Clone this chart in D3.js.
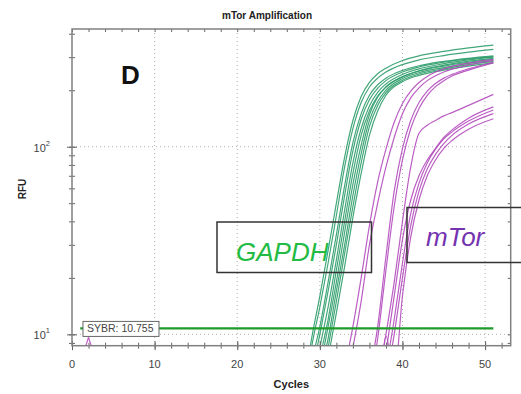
<!DOCTYPE html>
<html>
<head>
<meta charset="utf-8">
<script src="https://cdn.jsdelivr.net/npm/d3@7"></script>
<style>
  body { margin: 0; background: #fff; overflow: hidden; }
  svg { display: block; font-family: Arial, "Liberation Sans", sans-serif; }
</style>
</head>
<body>
<div id="chart"></div>
<script>
// cycles sampled for each group of wells
const gCycles = [27, 28, 29, 30, 31, 32, 33, 34, 35, 36, 37, 38, 40, 42, 45, 48, 51];
const gapdhRFU = [
  [3, 5, 9.5, 16, 28, 50, 88, 138, 185, 220, 245, 262, 288, 305, 322, 336, 348],
  [2.5, 4, 8.5, 14, 24, 43, 78, 125, 172, 208, 232, 250, 274, 290, 306, 319, 330],
  [2, 3.5, 7, 11, 19, 34, 62, 105, 150, 188, 214, 232, 255, 270, 285, 296, 305],
  [2, 3, 6, 10, 17, 30, 55, 95, 140, 178, 205, 225, 250, 266, 282, 294, 302],
  [1.5, 3, 5, 8.5, 14, 25, 46, 82, 125, 165, 195, 216, 243, 260, 277, 290, 300],
  [1.5, 2.5, 4.5, 7.5, 12, 22, 40, 72, 115, 155, 186, 208, 236, 254, 272, 286, 296],
  [1, 2, 4, 6.5, 11, 19, 35, 63, 102, 148, 184, 208, 236, 253, 269, 282, 292],
  [1, 2, 3.5, 6, 9.5, 17, 30, 55, 92, 138, 174, 200, 231, 248, 264, 278, 288],
  [1, 2, 3, 5, 8.5, 15, 27, 48, 82, 128, 166, 194, 226, 244, 260, 274, 284],
  [1, 1.5, 3, 4.5, 7.5, 13, 23, 42, 72, 115, 155, 188, 222, 240, 256, 269, 280]
];
const mCycles = [31, 32, 33, 34, 35, 36, 37, 38, 39, 40, 41, 42, 43, 44, 45, 46, 48, 51];
const mtorRFU = [
  [2, 3.5, 6.5, 11, 20, 38, 65, 97, 135, 170, 198, 220, 237, 250, 260, 268, 279, 292],
  [1.5, 2.5, 5, 8.5, 15, 30, 50, 78, 112, 150, 182, 206, 225, 239, 250, 259, 272, 288],
  [1, 1.5, 2, 2.5, 3, 6, 11, 26, 58, 98, 138, 172, 198, 217, 232, 243, 260, 282],
  [1, 1.5, 2, 2, 2.5, 5, 9.5, 22, 48, 85, 125, 160, 188, 209, 225, 238, 256, 280],
  [1, 1, 1.5, 2, 2.5, 3, 5.5, 10, 19, 40, 78, 118, 130, 138, 146, 152, 166, 190],
  [1, 1, 1, 1.5, 1.5, 2, 4, 8, 16, 32, 52, 70, 85, 98, 112, 123, 142, 163],
  [1, 1, 1, 1, 1.5, 2, 3.5, 6.5, 12, 24, 44, 64, 82, 97, 110, 120, 137, 157],
  [1, 1, 1, 1, 1.5, 2, 3, 5.5, 10, 20, 38, 58, 76, 91, 104, 115, 132, 150],
  [1, 1, 1, 1, 1.5, 2, 4, 9.8, 6, 16, 33, 52, 70, 85, 98, 108, 124, 141]
];
// early baseline blip of one mTor well
const noiseCycles = [1, 2, 3];
const noiseRFU = [7, 9.65, 7];

const threshold = 10.755;
const thresholdCycles = [1, 51];
const xTickLabels = [0, 10, 20, 30, 40, 50];
const yDecades = [10, 100];
const yMinor = [9, 10, 20, 30, 40, 50, 60, 70, 80, 90, 100, 200, 300, 400];

const W = 521, H = 394;
const margin = {top: 29, right: 10.3, bottom: 48.3, left: 72};
const iw = W - margin.left - margin.right;
const ih = H - margin.top - margin.bottom;

const svg = d3.select('#chart').append('svg')
  .attr('width', W)
  .attr('height', H);

const x = d3.scaleLinear().domain([0, 53.1]).range([0, iw]);
const y = d3.scaleLog().domain([8.7, 424]).range([ih, 0]);

const g = svg.append('g').attr('transform', `translate(${margin.left},${margin.top})`);

g.append('defs').append('clipPath').attr('id', 'plot')
  .append('rect').attr('width', iw).attr('height', ih);

// dotted grid
g.append('g').selectAll('line')
  .data(xTickLabels.filter(d => d > 0))
  .enter().append('line')
  .attr('x1', d => x(d)).attr('x2', d => x(d))
  .attr('y1', 0).attr('y2', ih)
  .attr('stroke', '#b0b0b0').attr('stroke-dasharray', '1,3');
g.append('g').selectAll('line')
  .data(yDecades)
  .enter().append('line')
  .attr('x1', 0).attr('x2', iw)
  .attr('y1', d => y(d)).attr('y2', d => y(d))
  .attr('stroke', '#b0b0b0').attr('stroke-dasharray', '1,3');

const line = d3.line()
  .x(d => x(d[0]))
  .y(d => y(d[1]))
  .curve(d3.curveMonotoneX);

const plot = g.append('g').attr('clip-path', 'url(#plot)');

plot.append('g').selectAll('path')
  .data(gapdhRFU)
  .enter().append('path')
  .attr('d', vals => line(gCycles.map((c, i) => [c, vals[i]])))
  .attr('fill', 'none')
  .attr('stroke', '#2f9d6c')
  .attr('stroke-opacity', 0.9)
  .attr('stroke-width', 1.2);

plot.append('g').selectAll('path')
  .data(mtorRFU)
  .enter().append('path')
  .attr('d', vals => line(mCycles.map((c, i) => [c, vals[i]])))
  .attr('fill', 'none')
  .attr('stroke', '#b34dbd')
  .attr('stroke-opacity', 0.9)
  .attr('stroke-width', 1.2);

plot.append('path')
  .attr('d', d3.line().x(d => x(d[0])).y(d => y(d[1]))(noiseCycles.map((c, i) => [c, noiseRFU[i]])))
  .attr('fill', 'none')
  .attr('stroke', '#c060c8')
  .attr('stroke-width', 1.2);

// threshold
plot.append('line')
  .attr('x1', x(thresholdCycles[0])).attr('x2', x(thresholdCycles[1]))
  .attr('y1', y(threshold)).attr('y2', y(threshold))
  .attr('stroke', '#1f9a2a')
  .attr('stroke-width', 2.2);

// threshold label
const thr = g.append('g').attr('transform', `translate(${x(1.33)},${y(threshold) - 7})`);
thr.append('rect')
  .attr('width', 76).attr('height', 15)
  .attr('fill', '#fff').attr('stroke', '#666').attr('stroke-width', 1);
thr.append('text')
  .attr('x', 4).attr('y', 11)
  .attr('font-size', 10.5)
  .attr('fill', '#444')
  .text('SYBR: 10.755');

// axes: ticks crossing the frame
function crossTicks(axisFn, scale, values, len) {
  const a = g.append('g');
  a.call(axisFn(scale).tickValues(values).tickSizeInner(len).tickSizeOuter(0).tickFormat(''));
  a.append('g').call(axisFn(scale).tickValues(values).tickSizeInner(-len).tickSizeOuter(0).tickFormat(''));
  a.selectAll('path.domain').remove();
  a.selectAll('line').attr('stroke', '#666');
  return a;
}
const xMinor = d3.range(0, 54, 2);
crossTicks(d3.axisBottom, x, xMinor, 3).attr('transform', `translate(0,${ih})`);
crossTicks(d3.axisBottom, x, xTickLabels, 4.5).attr('transform', `translate(0,${ih})`);
crossTicks(d3.axisLeft, y, yMinor, 3);
crossTicks(d3.axisLeft, y, yDecades, 5);

g.append('g').call(d3.axisTop(x).tickValues(xMinor).tickSizeInner(-3).tickSizeOuter(0).tickFormat(''))
  .call(a => a.select('.domain').remove())
  .selectAll('line').attr('stroke', '#666');
g.append('g').attr('transform', `translate(${iw},0)`)
  .call(d3.axisRight(y).tickValues(yMinor).tickSizeInner(-3).tickSizeOuter(0).tickFormat(''))
  .call(a => a.select('.domain').remove())
  .selectAll('line').attr('stroke', '#666');

// frame
g.append('rect')
  .attr('width', iw).attr('height', ih)
  .attr('fill', 'none').attr('stroke', '#808080').attr('stroke-width', 1.5);

// tick labels
g.append('g').selectAll('text')
  .data(xTickLabels)
  .enter().append('text')
  .attr('x', d => x(d)).attr('y', ih + 22)
  .attr('text-anchor', 'middle')
  .attr('font-size', 11)
  .attr('fill', '#444')
  .text(d => d);

const yl = g.append('g').selectAll('text')
  .data(yDecades)
  .enter().append('text')
  .attr('x', -22).attr('y', d => y(d) + 5)
  .attr('text-anchor', 'end')
  .attr('font-size', 11)
  .attr('fill', '#444');
yl.append('tspan').text('10');
yl.append('tspan').attr('font-size', 7.5).attr('dy', -6).text(d => Math.log10(d));

// titles
svg.append('text')
  .attr('x', 267).attr('y', 19)
  .attr('text-anchor', 'middle')
  .attr('font-size', 10).attr('font-weight', 'bold')
  .attr('fill', '#222')
  .text('mTor Amplification');
svg.append('text')
  .attr('x', margin.left + iw / 2).attr('y', 388)
  .attr('text-anchor', 'middle')
  .attr('font-size', 11).attr('font-weight', 'bold')
  .attr('fill', '#222')
  .text('Cycles');
svg.append('text')
  .attr('transform', `translate(26,189) rotate(-90)`)
  .attr('text-anchor', 'middle')
  .attr('font-size', 10).attr('font-weight', 'bold')
  .attr('fill', '#222')
  .text('RFU');

svg.append('text')
  .attr('x', 121).attr('y', 84)
  .attr('font-size', 26).attr('font-weight', 'bold')
  .attr('fill', '#111')
  .text('D');

// target boxes
svg.append('rect')
  .attr('x', 217).attr('y', 222).attr('width', 154.5).attr('height', 50.5)
  .attr('fill', 'none').attr('stroke', '#333').attr('stroke-width', 1.5);
svg.append('text')
  .attr('x', 236).attr('y', 261)
  .attr('font-size', 26).attr('font-style', 'italic')
  .attr('fill', '#22bb44')
  .text('GAPDH');
svg.append('rect')
  .attr('x', 407).attr('y', 207.5).attr('width', 200).attr('height', 55)
  .attr('fill', 'none').attr('stroke', '#333').attr('stroke-width', 1.5);
svg.append('text')
  .attr('x', 426).attr('y', 246)
  .attr('font-size', 26).attr('font-style', 'italic')
  .attr('fill', '#7433b0')
  .text('mTor');
</script>
</body>
</html>
